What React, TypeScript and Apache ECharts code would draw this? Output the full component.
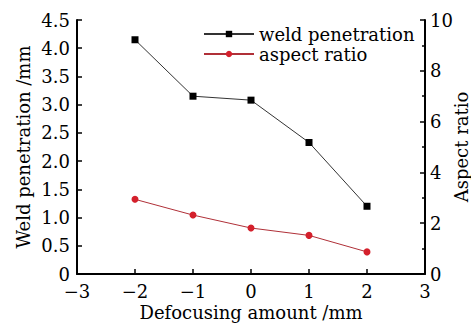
import React, { useEffect, useRef } from "react";
import * as echarts from "echarts";

const defocus = [-2, -1, 0, 1, 2];
const penetration = [4.15, 3.15, 3.08, 2.33, 1.2];
const aspectRatio = [2.94, 2.32, 1.81, 1.52, 0.87];
const seriesNames = ["weld penetration", "aspect ratio"];

const FONT = "DejaVu Serif";

export default function App() {
  const ref = useRef<HTMLDivElement>(null);
  useEffect(() => {
    if (!ref.current) return;
    const chart = echarts.init(ref.current, undefined, { renderer: "svg" });
    const axisLine = { show: true, onZero: false, lineStyle: { color: "#000", width: 2 } };
    const label = { color: "#000", fontFamily: FONT, fontSize: 18 };
    const nameStyle = { color: "#000", fontFamily: FONT, fontSize: 18 };
    const tick = { show: true, inside: true, length: 5, lineStyle: { color: "#000", width: 1.5 } };
    chart.setOption({
      animation: false,
      grid: { left: 77, right: 46, top: 20, bottom: 50, containLabel: false, outerBoundsMode: "none" },
      legend: {
        orient: "vertical",
        left: 198,
        top: 20,
        itemWidth: 50,
        itemHeight: 8,
        itemGap: 2,
        textStyle: { color: "#000", fontFamily: FONT, fontSize: 18 },
        data: seriesNames,
      },
      xAxis: {
        type: "value",
        min: -3,
        max: 3,
        interval: 1,
        name: "Defocusing amount /mm",
        nameLocation: "middle",
        nameGap: 29,
        nameMoveOverlap: false,
        nameTextStyle: nameStyle,
        axisLine,
        axisTick: tick,
        axisLabel: { ...label, margin: 8, formatter: (v: number) => String(v).replace("-", "\u2212") },
        splitLine: { show: false },
      },
      yAxis: [
        {
          type: "value",
          min: 0,
          max: 4.5,
          interval: 0.5,
          name: "Weld penetration /mm",
          nameLocation: "middle",
          nameGap: 45,
          nameMoveOverlap: false,
          nameTextStyle: nameStyle,
          axisLine,
          axisTick: tick,
          axisLabel: { ...label, margin: 7, formatter: (v: number) => (v === 0 ? "0" : v.toFixed(1)) },
          splitLine: { show: false },
        },
        {
          type: "value",
          min: 0,
          max: 10,
          interval: 2,
          position: "right",
          name: "Aspect ratio",
          nameLocation: "middle",
          nameGap: 27,
          nameMoveOverlap: false,
          nameRotate: 90,
          nameTextStyle: nameStyle,
          axisLine,
          axisTick: tick,
          minorTick: { show: true, splitNumber: 2, length: 3, lineStyle: { color: "#000", width: 1.5 } },
          axisLabel: { ...label, margin: 5 },
          splitLine: { show: false },
        },
      ],
      series: [
        {
          name: seriesNames[0],
          type: "line",
          yAxisIndex: 0,
          data: defocus.map((x, i) => [x, penetration[i]]),
          symbol: "rect",
          symbolSize: 7,
          lineStyle: { color: "#333", width: 1 },
          itemStyle: { color: "#000" },
        },
        {
          name: seriesNames[1],
          type: "line",
          yAxisIndex: 1,
          data: defocus.map((x, i) => [x, aspectRatio[i]]),
          symbol: "circle",
          symbolSize: 7,
          lineStyle: { color: "#b03038", width: 1 },
          itemStyle: { color: "#d4202c" },
        },
      ],
    });
    return () => chart.dispose();
  }, []);
  return <div ref={ref} style={{ position: "absolute", left: 0, top: 0, width: 471, height: 324 }} />;
}
